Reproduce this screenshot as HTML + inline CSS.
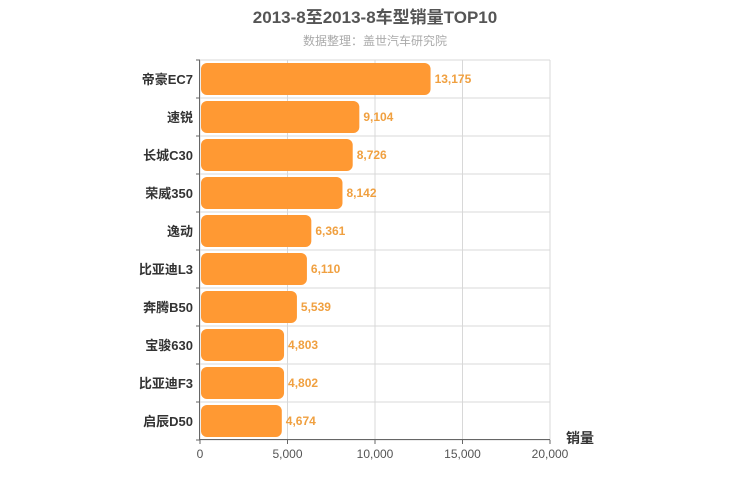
<!DOCTYPE html>
<html><head><meta charset="utf-8"><style>
body{margin:0;background:#fff;}
svg{display:block;font-family:"Liberation Sans","Noto Sans CJK SC",sans-serif;}
</style></head><body>
<svg id="chart" width="750" height="500">
<text x="375" y="23" text-anchor="middle" font-size="17" font-weight="bold" fill="#555">2013-8至2013-8车型销量TOP10</text>
<text x="375" y="45" text-anchor="middle" font-size="12" fill="#aaa">数据整理：盖世汽车研究院</text>
<g id="grid"></g><g id="bars"></g><g id="axes"></g>
<text x="580" y="443" text-anchor="middle" font-size="14" font-weight="bold" fill="#333">销量</text>
</svg>
<script>
const categories=["帝豪EC7","速锐","长城C30","荣威350","逸动","比亚迪L3","奔腾B50","宝骏630","比亚迪F3","启辰D50"];
const values=[13175,9104,8726,8142,6361,6110,5539,4803,4802,4674];
const xTicks=[0,5000,10000,15000,20000];
const xMax=20000;
const L=200,R=550,T=60,B=440;
const ns="http://www.w3.org/2000/svg";
const x=v=>L+(v/xMax)*(R-L);
const rowH=(B-T)/categories.length;
const y=i=>T+i*rowH;
function mk(tag,attrs,parent,txt){const e=document.createElementNS(ns,tag);for(const k in attrs)e.setAttribute(k,attrs[k]);if(txt!==undefined)e.textContent=txt;parent.appendChild(e);return e;}
const g=document.getElementById('grid'),b=document.getElementById('bars'),a=document.getElementById('axes');
xTicks.forEach((t,i)=>{
 const l=mk('line',{x1:x(t),x2:x(t),y1:T,y2:B,stroke:'#d8d8d8'},g);
 
 
 const tk=mk('line',{x1:x(t),x2:x(t),y1:B,y2:B+4,stroke:'#666'},a);
 
 
 const tx=mk('text',{x:x(t),y:B+18,'text-anchor':'middle','font-size':12,fill:'#555'},a,t.toLocaleString('en-US'));
 
 
});
for(let i=0;i<=categories.length;i++){
 const l=mk('line',{x1:L,x2:R,y1:y(i),y2:y(i),stroke:'#d8d8d8'},g);
 
 
 const tk=mk('line',{x1:L-4,x2:L,y1:y(i),y2:y(i),stroke:'#666'},a);
 
 
}
categories.forEach((c,i)=>{
 const r=mk('rect',{x:L+1,y:y(i)+3,width:x(values[i])-L-1,height:rowH-6,rx:6,fill:'#ff9933'},b);
 
 
 const v=mk('text',{x:x(values[i])+4,y:y(i)+rowH/2+4,'font-size':12,'font-weight':'bold',fill:'#f0a040'},b,values[i].toLocaleString('en-US'));
 
 
 const cl=mk('text',{x:L-7,y:y(i)+rowH/2+5,'text-anchor':'end','font-size':13,'font-weight':'bold',fill:'#333'},a,c);
 
 
});
const ax=mk('line',{x1:L-0.5,x2:L-0.5,y1:T,y2:B,stroke:'#666'},a);


const bx=mk('line',{x1:L,x2:R,y1:B-0.5,y2:B-0.5,stroke:'#666'},a);


</script>
</body></html>
